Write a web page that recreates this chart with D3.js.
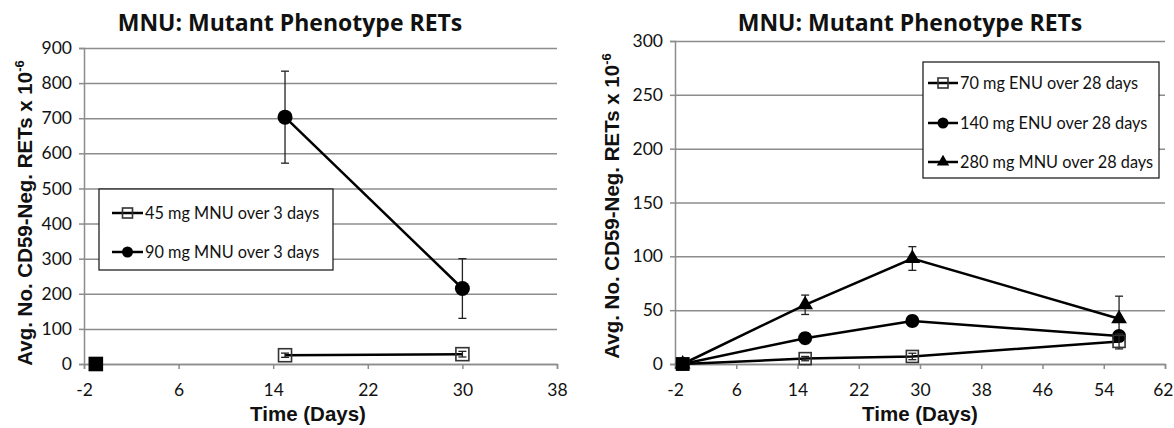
<!DOCTYPE html>
<html lang="en">
<head>
<meta charset="UTF-8">
<title>MNU: Mutant Phenotype RETs</title>
<script src="https://d3js.org/d3.v7.min.js"></script>
<style>
  body { margin: 0; background: #fff; }
  svg text { fill: #111; }
  .tick text { font-family: Lato, "Open Sans", sans-serif; font-size: 17.5px; }
  .title { font-family: "Open Sans", sans-serif; font-weight: bold; font-size: 23px; }
  .axlabel { font-family: "Liberation Sans", Arial, sans-serif; font-weight: bold; font-size: 20.5px; }
  .legend text { font-family: Lato, "Open Sans", sans-serif; font-size: 16.3px; }
</style>
</head>
<body>
<script>
// ---- data ----
const leftXTicks = [-2, 6, 14, 22, 30, 38];
const leftYTicks = [0, 100, 200, 300, 400, 500, 600, 700, 800, 900];
const leftBaselineDay = -1;
const leftDays = [15, 30];
const mnu45 = [25, 28];
const mnu45Err = [6, 8];
const mnu90 = [703, 215];
const mnu90Err = [131, 85];

const rightXTicks = [-2, 6, 14, 22, 30, 38, 46, 54, 62];
const rightYTicks = [0, 50, 100, 150, 200, 250, 300];
const rightDays = [-1, 15, 29, 56];
const enu70 = [0, 5, 7, 21];
const enu70Err = [0, 2, 3, 7];
const enu140 = [0, 24, 40, 26];
const enu140Err = [0, 5, 5, 4];
const mnu280 = [0, 55, 98, 42];
const mnu280Err = [0, 9, 11, 21];

const W = 1174, H = 428;
const svg = d3.select('body').append('svg').attr('width', W).attr('height', H);

function drawPanel(opt) {
  const x = d3.scaleLinear().domain(opt.xDomain).range([opt.left, opt.right]);
  const y = d3.scaleLinear().domain(opt.yDomain).range([opt.bottom, opt.top]);
  const g = svg.append('g');

  // gridlines
  g.append('g')
    .attr('transform', `translate(${opt.left},0)`)
    .call(d3.axisLeft(y).tickValues(opt.yTicks).tickSize(-(opt.right - opt.left)).tickFormat(''))
    .call(s => s.select('.domain').remove())
    .selectAll('line').attr('stroke', '#8c8c8c').attr('stroke-width', 1.5);

  // y axis
  const ya = g.append('g')
    .attr('transform', `translate(${opt.left},0)`)
    .call(d3.axisLeft(y).tickValues(opt.yTicks).tickSize(5).tickPadding(7).tickFormat(d => String(d)));
  ya.select('.domain').attr('stroke', '#8c8c8c').attr('stroke-width', 1.5);
  ya.selectAll('.tick line').attr('stroke', '#8c8c8c').attr('stroke-width', 1.5);

  // x axis
  const xa = g.append('g')
    .attr('transform', `translate(0,${opt.bottom})`)
    .call(d3.axisBottom(x).tickValues(opt.xTicks).tickSize(5).tickPadding(15).tickFormat(d => String(d)));
  xa.select('.domain').attr('stroke', '#8c8c8c').attr('stroke-width', 1.5);
  xa.selectAll('.tick line').attr('stroke', '#8c8c8c').attr('stroke-width', 1.5);
  // keep a label at the right page edge inside the frame
  xa.selectAll('.tick text').filter(d => x(d) + 10 > W).attr('text-anchor', 'end').attr('dx', W - 1 - x(opt.xDomain[1]));

  // title
  g.append('text').attr('class', 'title')
    .attr('x', opt.titleX).attr('y', 31).attr('text-anchor', 'middle')
    .text('MNU: Mutant Phenotype RETs');

  // axis labels
  g.append('text').attr('class', 'axlabel')
    .attr('x', opt.xLabelX).attr('y', 421).attr('text-anchor', 'middle')
    .text('Time (Days)');
  const yl = g.append('text').attr('class', 'axlabel')
    .attr('transform', `translate(${opt.yLabelX},${opt.yLabelY}) rotate(-90)`)
    .attr('text-anchor', 'middle');
  yl.append('tspan').text('Avg. No. CD59-Neg. RETs x 10');
  yl.append('tspan').attr('dy', -8).style('font-size', '13px').text('-6');

  return { x, y, g };
}

function drawSeries(p, days, vals, errs, marker, withLine) {
  const pts = days.map((d, i) => ({ d, v: vals[i], e: errs[i] }));
  if (withLine) {
    p.g.append('path')
      .datum(pts)
      .attr('fill', 'none').attr('stroke', '#000').attr('stroke-width', 2.5)
      .attr('d', d3.line().x(d => p.x(d.d)).y(d => p.y(d.v)));
  }
  // error bars
  const eb = p.g.append('g').attr('stroke', '#222').attr('stroke-width', 1.3);
  pts.filter(d => d.e > 0).forEach(d => {
    const cx = p.x(d.d);
    eb.append('line').attr('x1', cx).attr('x2', cx).attr('y1', p.y(d.v - d.e)).attr('y2', p.y(d.v + d.e));
    eb.append('line').attr('x1', cx - 4).attr('x2', cx + 4).attr('y1', p.y(d.v - d.e)).attr('y2', p.y(d.v - d.e));
    eb.append('line').attr('x1', cx - 4).attr('x2', cx + 4).attr('y1', p.y(d.v + d.e)).attr('y2', p.y(d.v + d.e));
  });
  pts.forEach(d => drawMarker(p.g, marker, p.x(d.d), p.y(d.v)));
}

function drawMarker(g, m, cx, cy) {
  if (m.type === 'square') {
    g.append('rect').attr('x', cx - m.s / 2).attr('y', cy - m.s / 2).attr('width', m.s).attr('height', m.s)
      .attr('fill', m.fill || 'none').attr('stroke', m.fill ? m.fill : '#333').attr('stroke-width', 1.6);
  } else if (m.type === 'circle') {
    g.append('circle').attr('cx', cx).attr('cy', cy).attr('r', m.s / 2).attr('fill', '#000');
  } else {
    g.append('path').attr('transform', `translate(${cx},${cy})`)
      .attr('d', d3.symbol().type(d3.symbolTriangle).size(m.s * m.s * 0.55)()).attr('fill', '#000');
  }
}

function drawLegend(g, x0, y0, w, h, entries, rowY, lineX, textX) {
  const lg = g.append('g').attr('class', 'legend');
  lg.append('rect').attr('x', x0).attr('y', y0).attr('width', w).attr('height', h)
    .attr('fill', '#fff').attr('stroke', '#222').attr('stroke-width', 1.3);
  entries.forEach((e, i) => {
    const yy = y0 + rowY[i];
    lg.append('line').attr('x1', x0 + lineX[0]).attr('x2', x0 + lineX[1]).attr('y1', yy).attr('y2', yy)
      .attr('stroke', '#000').attr('stroke-width', 2.5);
    drawMarker(lg, e.marker, x0 + (lineX[0] + lineX[1]) / 2, yy);
    lg.append('text').attr('x', x0 + textX).attr('y', yy).attr('dy', '0.35em').text(e.label);
  });
}

// ---- left panel ----
const L = drawPanel({
  xDomain: [-2, 38], yDomain: [0, 900], left: 84, right: 557, top: 48, bottom: 364,
  xTicks: leftXTicks, yTicks: leftYTicks, titleX: 290, xLabelX: 308, yLabelX: 32, yLabelY: 213
});
drawSeries(L, leftDays, mnu90, mnu90Err, { type: 'circle', s: 15 }, true);
drawSeries(L, leftDays, mnu45, mnu45Err, { type: 'square', s: 13 }, true);
drawMarker(L.g, { type: 'square', s: 13, fill: '#000' }, L.x(leftBaselineDay), L.y(0));
drawLegend(L.g, 99, 189, 234, 81, [
  { label: '45 mg MNU over 3 days', marker: { type: 'square', s: 10 } },
  { label: '90 mg MNU over 3 days', marker: { type: 'circle', s: 11 } }
], [24, 63], [13, 44], 46);

// ---- right panel ----
const R = drawPanel({
  xDomain: [-2, 62], yDomain: [0, 300], left: 675, right: 1165, top: 41, bottom: 364,
  xTicks: rightXTicks, yTicks: rightYTicks, titleX: 910, xLabelX: 920, yLabelX: 619, yLabelY: 206
});
drawSeries(R, rightDays, mnu280, mnu280Err, { type: 'triangle', s: 14 }, true);
drawSeries(R, rightDays, enu140, enu140Err, { type: 'circle', s: 14 }, true);
drawSeries(R, rightDays, enu70, enu70Err, { type: 'square', s: 12 }, true);
drawMarker(R.g, { type: 'square', s: 12, fill: '#000' }, R.x(rightDays[0]), R.y(0));
drawLegend(R.g, 923, 62, 236, 116, [
  { label: '70 mg ENU over 28 days', marker: { type: 'square', s: 10 } },
  { label: '140 mg ENU over 28 days', marker: { type: 'circle', s: 11 } },
  { label: '280 mg MNU over 28 days', marker: { type: 'triangle', s: 11 } }
], [21, 61, 100], [5, 35], 37);
</script>
</body>
</html>
